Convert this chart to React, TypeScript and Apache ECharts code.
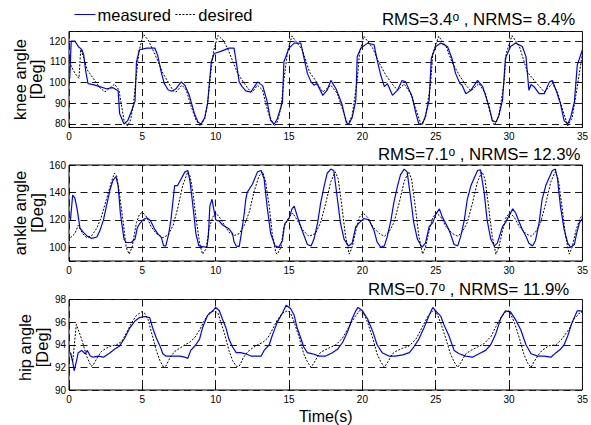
import React, { useEffect, useRef } from "react";
import * as echarts from "echarts";

// ---- data (time [s], angle [deg]) ----
const kneeDesired: [number, number][] = [
  [0, 110], [0.4, 104.5], [0.68, 102], [0.8, 116], [0.97, 112.5], [1.25, 106], [1.65, 102], [2.1, 97.5],
  [2.45, 95.5], [2.9, 98], [3.1, 99.2], [3.4, 96.5], [3.6, 88], [3.75, 81.6], [4.0, 79], [4.2, 82],
  [4.4, 90], [4.6, 104], [4.77, 115], [5.0, 121.5], [5.1, 123], [5.4, 120.5], [5.7, 116], [6.05, 110.5],
  [6.4, 104.5], [6.75, 100.3], [7.1, 96], [7.3, 95.4], [7.7, 98.7], [8.0, 96.3], [8.3, 89], [8.65, 82],
  [8.95, 79], [9.25, 82.5], [9.45, 90], [9.65, 104], [9.85, 115], [10.15, 122.7], [10.5, 120.5], [10.8, 116.6],
  [11.15, 110.5], [11.5, 104.4], [11.95, 99.5], [12.3, 96.3], [12.5, 95.4], [12.85, 98.7], [13.2, 96.3], [13.4, 90],
  [13.65, 84], [14.0, 79], [14.2, 81], [14.45, 88], [14.65, 101], [14.9, 115], [15.2, 122.5], [15.5, 119.5],
  [15.9, 115.8], [16.4, 105], [16.8, 101], [17.3, 95.4], [17.85, 98.7], [18.3, 94.6], [18.6, 88], [19.0, 79.7],
  [19.3, 84], [19.65, 101], [19.8, 114], [20.1, 122.3], [20.7, 116.6], [21.1, 110], [21.6, 103.6], [22.0, 99.5],
  [22.4, 96.3], [22.85, 99.2], [23.3, 94.6], [23.6, 88], [24.0, 79.7], [24.3, 83], [24.65, 99.5], [24.8, 114],
  [25.2, 122.3], [25.7, 117.4], [26.1, 110], [26.6, 103.6], [27.05, 98.7], [27.4, 96], [27.95, 99.5], [28.4, 94.6],
  [28.6, 88], [29.0, 79.2], [29.3, 84], [29.65, 99.5], [29.8, 114], [30.2, 122.6], [30.7, 117.4], [31.25, 105],
  [31.8, 100.3], [32.4, 95.4], [32.95, 99.5], [33.3, 95.4], [33.6, 88], [34.0, 79.2], [34.3, 83], [34.65, 98],
  [35.0, 114],
];

const kneeMeasured: [number, number][] = [
  [0.05, 102], [0.15, 120], [0.4, 120], [0.63, 117.4], [0.86, 116], [1.0, 113.5], [1.15, 105], [1.3, 99.5],
  [1.65, 99], [2.1, 98], [2.55, 97], [3.0, 97.5], [3.35, 96], [3.45, 85], [3.75, 80], [4.0, 81.6],
  [4.25, 86], [4.5, 91], [4.6, 110], [4.8, 115.8], [5.3, 116.6], [5.85, 116.6], [6.05, 113], [6.3, 104.5],
  [6.5, 99.5], [6.75, 96.5], [7.0, 95.8], [7.3, 97], [7.65, 100.3], [7.9, 98.7], [8.2, 93.8], [8.55, 85],
  [8.8, 80.8], [9.0, 80], [9.25, 83], [9.45, 90], [9.7, 110], [9.9, 114], [10.35, 115], [10.9, 116.6],
  [11.25, 116.6], [11.4, 110], [11.6, 100.3], [11.8, 98], [12.05, 96], [12.4, 95.4], [12.85, 100.3], [13.2, 98.5],
  [13.5, 91], [13.75, 81.6], [14.0, 80], [14.2, 82.5], [14.55, 90.5], [14.65, 110], [15.0, 116.6], [15.35, 119],
  [15.8, 119], [16.0, 112.5], [16.25, 104.4], [16.5, 100.3], [16.7, 98.7], [16.9, 99.5], [17.3, 93.8], [17.6, 96.3],
  [17.85, 101], [18.2, 97], [18.6, 89.8], [18.9, 80.8], [19.05, 79.7], [19.3, 83], [19.55, 91.4], [19.65, 112.5],
  [19.9, 116.6], [20.35, 119], [20.8, 118.2], [21.0, 111], [21.25, 103.6], [21.5, 98], [21.7, 99.5], [22.05, 93.8],
  [22.4, 96.3], [22.7, 101], [22.95, 100.3], [23.4, 93], [23.65, 85], [23.85, 80], [24.1, 80], [24.3, 84],
  [24.55, 91.4], [24.7, 111.7], [25.0, 117.4], [25.35, 119], [25.8, 117.4], [26.1, 111.7], [26.35, 104.4], [26.65, 99.5],
  [26.8, 98.7], [27.05, 94.6], [27.4, 96.3], [27.85, 101], [28.2, 98], [28.65, 88], [28.85, 81.6], [29.1, 80.8],
  [29.3, 84], [29.55, 91.4], [29.75, 111.7], [30.1, 117.4], [30.45, 119], [30.9, 117.4], [31.15, 112.5], [31.35, 96.3],
  [31.5, 99], [31.7, 98], [32.05, 94.6], [32.4, 94.6], [32.75, 100.3], [32.95, 101], [33.2, 96.3], [33.5, 89.8],
  [33.75, 81.6], [34.0, 80], [34.2, 83.3], [34.45, 90.6], [34.65, 108.5], [35.0, 115.8],
];

const ankleDesired: [number, number][] = [
  [0.1, 107], [0.4, 110], [0.63, 116], [0.93, 110], [1.2, 107], [1.55, 108.5], [1.9, 114], [2.2, 122],
  [2.55, 135], [2.9, 148], [3.1, 154], [3.25, 152], [3.45, 138], [3.7, 118], [3.9, 100], [4.1, 95],
  [4.3, 100], [4.6, 118], [4.8, 124], [5.0, 125.5], [5.3, 122], [5.6, 115], [5.95, 110], [6.4, 107],
  [6.75, 109], [7.1, 116], [7.4, 128], [7.75, 145], [8.1, 155], [8.25, 152], [8.45, 140], [8.65, 122],
  [8.9, 103], [9.1, 95], [9.35, 99], [9.55, 114], [9.8, 122], [10.0, 125], [10.25, 122], [10.6, 116],
  [10.9, 111], [11.25, 108.5], [11.6, 110], [11.95, 116], [12.3, 126], [12.6, 140], [12.95, 152], [13.2, 155],
  [13.4, 148], [13.65, 130], [13.85, 110], [14.1, 96], [14.2, 95], [14.45, 100], [14.65, 115], [15.0, 122],
  [15.25, 125], [15.55, 120], [15.9, 113], [16.35, 108], [16.8, 110], [17.15, 118], [17.5, 132], [17.85, 148],
  [18.15, 155], [18.35, 150], [18.6, 130], [18.85, 108], [19.1, 95], [19.3, 100], [19.55, 112], [19.8, 122],
  [20.05, 125], [20.35, 122], [20.7, 115], [21.15, 110], [21.5, 108], [21.8, 111], [22.15, 118], [22.5, 132],
  [22.85, 148], [23.15, 155], [23.35, 150], [23.6, 130], [23.85, 108], [24.1, 95], [24.3, 100], [24.55, 112],
  [24.8, 122], [25.05, 125], [25.35, 122], [25.7, 115], [26.15, 110], [26.5, 108], [26.8, 111], [27.15, 118],
  [27.5, 132], [27.85, 148], [28.15, 155], [28.35, 150], [28.6, 130], [28.85, 108], [29.1, 95], [29.3, 100],
  [29.55, 112], [29.8, 122], [30.05, 125], [30.35, 122], [30.7, 115], [31.15, 110], [31.5, 108], [31.8, 111],
  [32.15, 118], [32.5, 132], [32.85, 148], [33.15, 155], [33.35, 150], [33.6, 130], [33.85, 108], [34.1, 95],
  [34.3, 100], [34.55, 112], [34.8, 120], [35.0, 124],
];

const ankleMeasured: [number, number][] = [
  [0.1, 120], [0.25, 138], [0.4, 136], [0.55, 128], [0.75, 114], [0.97, 111], [1.25, 108], [1.55, 106.5],
  [1.9, 107.5], [2.1, 112], [2.35, 120], [2.55, 130], [2.8, 142], [3.0, 149], [3.2, 151.5], [3.35, 145],
  [3.5, 125], [3.75, 106], [3.9, 103.5], [4.25, 103.5], [4.5, 106], [4.65, 114], [4.8, 117], [5.05, 120],
  [5.3, 121.5], [5.55, 119.5], [5.85, 113], [6.05, 110], [6.3, 107], [6.45, 101], [6.6, 101], [6.8, 110],
  [6.95, 120], [7.1, 135], [7.2, 145], [7.4, 145], [7.65, 150], [7.9, 155], [8.1, 156], [8.25, 148],
  [8.45, 130], [8.65, 110], [8.85, 101], [9.1, 100.5], [9.4, 100], [9.5, 108], [9.6, 130], [9.75, 135],
  [9.9, 126], [10.0, 120], [10.25, 119], [10.5, 116], [10.9, 113.5], [11.15, 110], [11.25, 104], [11.4, 101],
  [11.6, 100.5], [11.75, 110], [11.95, 125], [12.05, 135], [12.15, 140], [12.5, 146], [12.85, 155], [13.1, 156],
  [13.3, 150], [13.5, 130], [13.75, 110], [14.05, 101], [14.3, 100], [14.55, 105], [14.7, 117], [15.0, 121],
  [15.2, 128], [15.35, 130], [15.55, 123], [15.9, 112], [16.25, 102], [16.5, 101], [16.7, 106], [16.95, 118],
  [17.15, 132], [17.4, 145], [17.6, 154], [17.85, 157], [18.05, 156], [18.3, 135], [18.5, 118], [18.75, 106],
  [19.05, 101], [19.3, 103], [19.55, 115], [19.8, 118], [20.1, 121], [20.45, 120], [20.8, 112], [21.0, 104],
  [21.25, 100], [21.5, 101], [21.7, 108], [21.95, 120], [22.15, 133], [22.4, 145], [22.6, 153], [22.85, 157],
  [23.05, 155], [23.3, 135], [23.5, 118], [23.75, 106], [24.05, 100], [24.3, 103], [24.55, 115], [24.8, 118],
  [25.0, 124], [25.25, 128], [25.45, 122], [25.8, 115], [26.0, 110], [26.25, 102], [26.5, 101], [26.7, 108],
  [26.95, 120], [27.15, 135], [27.4, 145], [27.6, 150], [27.85, 156], [28.05, 156.5], [28.3, 140], [28.5, 120],
  [28.75, 106], [29.0, 101], [29.2, 103], [29.55, 115], [29.75, 118], [30.0, 123], [30.25, 128], [30.45, 125],
  [30.7, 118], [30.9, 113], [31.15, 108], [31.35, 103], [31.6, 101], [31.8, 105], [32.05, 118], [32.25, 135],
  [32.5, 145], [32.7, 150], [32.95, 156], [33.15, 157], [33.3, 150], [33.5, 130], [33.75, 113], [34.0, 103],
  [34.2, 100], [34.45, 102], [34.6, 110], [34.8, 118], [35.0, 121],
];

const hipDesired: [number, number][] = [
  [0.1, 93.3], [0.25, 92.5], [0.5, 95.8], [0.86, 94.5], [1.2, 93.0], [1.5, 92.1], [1.65, 92.2], [1.9, 92.8],
  [2.2, 93.4], [2.55, 93.7], [2.9, 93.9], [3.25, 94.0], [3.6, 94.3], [3.9, 95.0], [4.25, 95.9], [4.6, 96.6],
  [4.95, 96.9], [5.15, 96.8], [5.4, 96.2], [5.6, 95.2], [5.95, 93.5], [6.2, 92.6], [6.4, 92.1], [6.6, 92.1],
  [6.9, 92.9], [7.2, 93.4], [7.55, 93.7], [7.9, 94.0], [8.2, 94.2], [8.55, 94.6], [8.9, 95.3], [9.25, 96.2],
  [9.55, 96.8], [9.9, 97.0], [10.15, 96.8], [10.35, 96.0], [10.6, 95.0], [10.9, 93.5], [11.15, 92.6], [11.4, 92.1],
  [11.6, 92.1], [11.9, 92.9], [12.2, 93.4], [12.5, 93.7], [12.85, 94.0], [13.2, 94.2], [13.55, 94.6], [13.85, 95.3],
  [14.2, 96.2], [14.55, 96.8], [14.9, 97.0], [15.1, 96.8], [15.35, 96.0], [15.7, 94.6], [16.0, 93.2], [16.25, 92.5],
  [16.5, 92.0], [16.7, 92.4], [17.05, 93.2], [17.25, 93.4], [17.7, 93.7], [18.2, 94.0], [18.65, 94.6], [19.1, 95.6],
  [19.45, 96.4], [19.8, 97.0], [20.0, 97.0], [20.35, 96.0], [20.7, 94.6], [21.0, 93.2], [21.25, 92.5], [21.5, 92.0],
  [21.7, 92.4], [22.05, 93.2], [22.25, 93.4], [22.75, 93.7], [23.2, 93.9], [23.65, 94.5], [24.1, 95.6], [24.45, 96.5],
  [24.8, 97.0], [25.0, 97.0], [25.35, 95.9], [25.7, 94.5], [26.0, 93.2], [26.25, 92.5], [26.5, 92.0], [26.7, 92.4],
  [27.05, 93.2], [27.4, 93.5], [27.85, 93.8], [28.3, 94.1], [28.75, 94.7], [29.1, 95.6], [29.45, 96.4], [29.75, 96.9],
  [30.0, 97.0], [30.35, 96.0], [30.7, 94.6], [31.0, 93.2], [31.25, 92.4], [31.5, 92.0], [31.7, 92.5], [32.05, 93.2],
  [32.25, 93.5], [32.7, 93.9], [33.2, 94.0], [33.6, 94.5], [34.1, 95.4], [34.45, 96.3], [34.8, 96.8], [35.0, 96.9],
];

const hipMeasured: [number, number][] = [
  [0.1, 93.3], [0.25, 92.5], [0.35, 91.7], [0.5, 92.5], [0.63, 93.3], [0.86, 93.5], [1.1, 93.2], [1.25, 93.5],
  [1.45, 93.0], [1.65, 92.9], [2.0, 93.0], [2.35, 92.9], [2.8, 93.3], [3.1, 93.6], [3.45, 93.9], [3.8, 94.6],
  [4.15, 95.5], [4.5, 96.1], [4.8, 96.4], [5.15, 96.5], [5.5, 96.4], [5.7, 95.5], [5.95, 94.6], [6.2, 93.9],
  [6.4, 93.2], [6.6, 93.0], [7.1, 93.0], [7.55, 93.0], [7.9, 92.9], [8.1, 92.8], [8.3, 93.5], [8.65, 94.0],
  [8.9, 94.5], [9.1, 95.5], [9.45, 96.6], [9.8, 97.0], [10.0, 97.3], [10.25, 97.0], [10.45, 96.3], [10.7, 95.5],
  [10.9, 94.5], [11.15, 93.8], [11.4, 93.3], [11.7, 93.3], [12.05, 93.2], [12.4, 93.0], [12.75, 93.0], [13.1, 93.0],
  [13.3, 93.5], [13.65, 94.0], [13.85, 94.8], [14.2, 96.0], [14.55, 96.8], [14.8, 97.5], [15.1, 97.2], [15.35, 96.6],
  [15.55, 95.5], [15.8, 94.6], [16.0, 93.8], [16.25, 93.3], [16.6, 93.2], [17.05, 93.0], [17.5, 93.0], [17.95, 93.3],
  [18.3, 93.6], [18.65, 94.2], [19.0, 95.2], [19.3, 96.3], [19.55, 97.0], [19.7, 97.3], [20.0, 97.0], [20.35, 96.3],
  [20.7, 95.2], [21.0, 94.0], [21.35, 93.3], [21.8, 93.0], [22.25, 93.0], [22.75, 93.1], [23.2, 93.3], [23.5, 93.8],
  [23.85, 94.5], [24.2, 95.5], [24.55, 96.6], [24.8, 97.3], [25.0, 97.0], [25.35, 96.5], [25.55, 95.8], [25.9, 94.8],
  [26.25, 93.5], [26.6, 93.2], [27.05, 93.0], [27.5, 92.9], [27.95, 93.2], [28.4, 93.5], [28.75, 94.0], [29.1, 95.0],
  [29.45, 96.4], [29.75, 97.0], [30.1, 96.9], [30.45, 96.2], [30.8, 95.3], [31.15, 94.0], [31.5, 93.2], [31.95, 93.0],
  [32.4, 93.0], [32.85, 92.9], [33.2, 93.3], [33.5, 93.6], [33.75, 94.0], [34.0, 94.8], [34.3, 96.0], [34.65, 97.0],
  [34.9, 97.0], [35.0, 96.9],
];

const timeTicks = [0, 5, 10, 15, 20, 25, 30, 35];
const panelNames = ["knee angle", "ankle angle", "hip angle"];
const panelUnit = "[Deg]";
const panelRms = ["3.4", "7.1", "0.7"];
const panelNrms = ["8.4%", "12.3%", "11.9%"];
const yMin = [78.3, 90, 90];
const yMax = [124.6, 160, 98];
const yStep = [10, 20, 2];

const FONT = "Liberation Sans, Arial, Helvetica, sans-serif";
const BLUE = "#0000ff";

export default function App() {
  const ref = useRef<HTMLDivElement>(null);

  useEffect(() => {
    document.body.style.margin = "0";
    if (!ref.current) return;
    const chart = echarts.init(ref.current, null, { renderer: "svg" });

    const gridBoxes = [
      { left: 69, right: 7, top: 31.5, height: 96 },
      { left: 69, right: 7, top: 165, height: 96 },
      { left: 69, right: 7, top: 299.5, height: 96 },
    ];
    const grids = gridBoxes.map((g) => ({
      ...g,
      show: true,
      borderColor: "#000",
      borderWidth: 1,
      backgroundColor: "transparent",
    }));

    const gridLine = { show: true, lineStyle: { color: "#1a1a1a", width: 1, type: [7, 4.5] as any } };

    const xAxes = [0, 1, 2].map((i) => ({
      type: "value" as const,
      gridIndex: i,
      min: timeTicks[0],
      max: timeTicks[timeTicks.length - 1],
      interval: timeTicks[1] - timeTicks[0],
      axisLine: { show: false },
      axisTick: { show: true, inside: true, length: 4, lineStyle: { color: "#000" } },
      axisLabel: { color: "#000", fontSize: 10, fontFamily: FONT, margin: 4 },
      splitLine: gridLine,
      ...(i === 2
        ? {
            name: "Time(s)",
            nameLocation: "middle" as const,
            nameGap: 18,
            nameTextStyle: { color: "#000", fontSize: 16, fontFamily: FONT },
          }
        : {}),
    }));

    const yAxes = [0, 1, 2].map((i) => ({
      type: "value" as const,
      gridIndex: i,
      min: yMin[i],
      max: yMax[i],
      ...(i === 2 ? { interval: yStep[i] } : { minInterval: yStep[i], maxInterval: yStep[i], splitNumber: 4 }),
      axisLine: { show: false },
      axisTick: { show: true, inside: true, length: 4, lineStyle: { color: "#000" } },
      axisLabel: {
        color: "#000",
        fontSize: 10,
        fontFamily: FONT,
        margin: 3,
        showMinLabel: true,
        showMaxLabel: true,
        formatter: (v: number) => (Math.abs(v / yStep[i] - Math.round(v / yStep[i])) < 1e-6 ? String(v) : ""),
      },
      splitLine: gridLine,
    }));

    const data = [
      [kneeMeasured, kneeDesired],
      [ankleMeasured, ankleDesired],
      [hipMeasured, hipDesired],
    ];

    const series: any[] = [];
    data.forEach(([meas, des], i) => {
      series.push({
        name: "measured",
        type: "line",
        xAxisIndex: i,
        yAxisIndex: i,
        data: meas,
        symbol: "none",
        showSymbol: false,
        lineStyle: { color: BLUE, width: 1.2 },
        itemStyle: { color: BLUE },
        z: 3,
      });
      series.push({
        name: "desired",
        type: "line",
        xAxisIndex: i,
        yAxisIndex: i,
        data: des,
        symbol: "none",
        showSymbol: false,
        lineStyle: { color: "#000", width: 1, type: [2, 1.5] },
        itemStyle: { color: "#000" },
        z: 4,
      });
    });

    const titleX = [382, 378, 368];
    const titleY = [19.5, 154.5, 289.5];
    const graphics: any[] = [0, 1, 2].map((i) => ({
      type: "text",
      x: titleX[i],
      y: titleY[i],
      style: {
        text: `{n|RMS=${panelRms[i]}}{s|o}{n| , NRMS= ${panelNrms[i]}}`,
        align: "left",
        verticalAlign: "middle",
        fill: "#000",
        font: `16.8px ${FONT}`,
        rich: {
          n: { fontSize: 16.8, fontFamily: FONT, fill: "#000", lineHeight: 18 },
          s: { fontSize: 12, fontFamily: FONT, fill: "#000", lineHeight: 12, verticalAlign: "top" },
        },
      },
    }));

    // rotated two-line y-axis titles
    const nameX = [19.5, 20, 25];
    const unitX = [36, 37, 42];
    [0, 1, 2].forEach((i) => {
      const cy = gridBoxes[i].top + gridBoxes[i].height / 2;
      graphics.push({
        type: "text",
        x: nameX[i],
        y: cy,
        rotation: Math.PI / 2,
        style: { text: panelNames[i], align: "center", verticalAlign: "middle", fill: "#000", font: `16.5px ${FONT}` },
      });
      graphics.push({
        type: "text",
        x: unitX[i],
        y: cy,
        rotation: Math.PI / 2,
        style: { text: panelUnit, align: "center", verticalAlign: "middle", fill: "#000", font: `16.5px ${FONT}` },
      });
    });

    chart.setOption({
      animation: false,
      backgroundColor: "#fff",
      textStyle: { fontFamily: FONT },
      legend: {
        data: ["measured", "desired"],
        left: 74,
        top: 6,
        padding: 0,
        itemGap: 4,
        itemWidth: 21,
        itemHeight: 10,
        itemStyle: { opacity: 0 },
        lineStyle: { width: 1 },
        textStyle: { color: "#000", fontSize: 16.5, fontFamily: FONT, padding: [0, 0, 0, -3] },
      },
      grid: grids,
      xAxis: xAxes,
      yAxis: yAxes,
      series,
      graphic: graphics,
    });

    return () => chart.dispose();
  }, []);

  return <div ref={ref} style={{ width: 591, height: 425 }} />;
}
